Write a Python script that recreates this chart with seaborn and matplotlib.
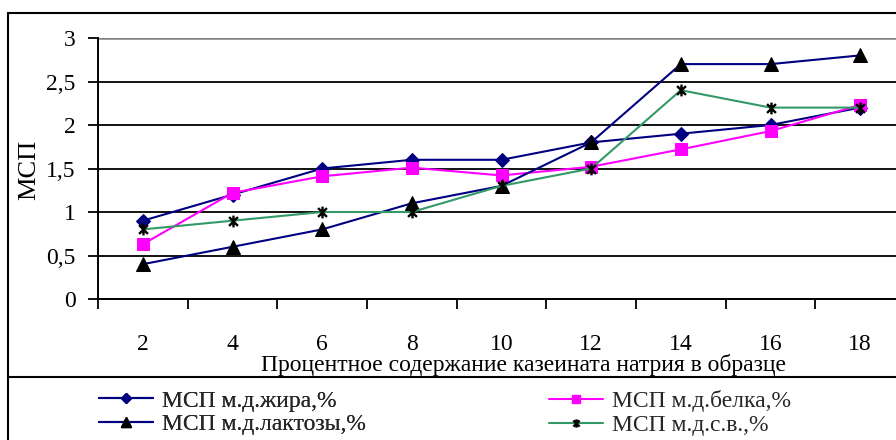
import matplotlib
matplotlib.use("Agg")
import matplotlib.pyplot as plt
from matplotlib.lines import Line2D
from matplotlib.path import Path
from matplotlib.ticker import FixedLocator, FuncFormatter
import numpy as np
import pandas as pd
import seaborn as sns

# ---- data ----
casein_pct = [2, 4, 6, 8, 10, 12, 14, 16, 18]
msp_fat = [0.9, 1.2, 1.5, 1.6, 1.6, 1.8, 1.9, 2.0, 2.2]
msp_protein = [0.63, 1.22, 1.41, 1.51, 1.42, 1.52, 1.72, 1.93, 2.23]
msp_lactose = [0.4, 0.6, 0.8, 1.1, 1.3, 1.8, 2.7, 2.7, 2.8]
msp_dry = [0.8, 0.9, 1.0, 1.0, 1.3, 1.5, 2.4, 2.2, 2.2]
series_labels = ["МСП м.д.жира,%", "МСП м.д.белка,%", "МСП м.д.лактозы,%", "МСП м.д.с.в.,%"]
y_ticks = [0, 0.5, 1, 1.5, 2, 2.5, 3]
x_label = "Процентное содержание казеината натрия в образце"
y_label = "МСП"

sns.set_theme(style="white")
plt.rcParams["font.family"] = ["Liberation Serif", "DejaVu Serif"]
FS = 17
plt.rcParams["font.size"] = FS

W, H = 896, 440
fig = plt.figure(figsize=(W / 100, H / 100), dpi=100)
fig.patch.set_facecolor("white")

def fx(px):
    return px / W

def fy(py):
    return 1 - py / H

ax_l, ax_r, ax_t, ax_b = 98, 905, 38, 299
ax = fig.add_axes([fx(ax_l), fy(ax_b), fx(ax_r - ax_l), (ax_b - ax_t) / H])
ax.set_facecolor("white")

# Excel-style star: an x with a vertical bar
star = Path([(0, -1), (0, 1), (-0.75, -0.75), (0.75, 0.75), (-0.75, 0.75), (0.75, -0.75)],
            [Path.MOVETO, Path.LINETO, Path.MOVETO, Path.LINETO, Path.MOVETO, Path.LINETO])

styles = [
    dict(color="#000080", marker="D", markersize=7.5, markerfacecolor="#000080",
         markeredgecolor="#000080"),
    dict(color="#FF00FF", marker="s", markersize=8.8, markerfacecolor="#FF00FF",
         markeredgecolor="#FF00FF"),
    dict(color="#000080", marker="^", markersize=10, markerfacecolor="black",
         markeredgecolor="black"),
    dict(color="#339966", marker=star, markersize=8.5, markerfacecolor="black",
         markeredgecolor="black", markeredgewidth=1.7),
]
series = [msp_fat, msp_protein, msp_lactose, msp_dry]

handles = []
for vals, lab, st in zip(series, series_labels, styles):
    df = pd.DataFrame({"x": casein_pct, "y": vals})
    sns.lineplot(data=df, x="x", y="y", ax=ax, linewidth=1.5, zorder=5,
                 label=lab, legend=False, **st)
    handles.append(Line2D([], [], linewidth=1.5, **st))

# axes limits and ticks
ax.set_xlim(casein_pct[0] - 1, casein_pct[-1] + 1)
ax.set_ylim(0, 3)
ax.xaxis.set_major_locator(FixedLocator(casein_pct))
ax.xaxis.set_minor_locator(FixedLocator([c - 1 for c in casein_pct] + [casein_pct[-1] + 1]))
ax.yaxis.set_major_locator(FixedLocator(y_ticks))
ax.yaxis.set_major_formatter(FuncFormatter(lambda v, p: ("%g" % v).replace(".", ",")))
ax.xaxis.set_major_formatter(FuncFormatter(lambda v, p: "%d" % v))

ax.tick_params(axis="x", which="major", length=0, pad=25, labelsize=FS, colors="black")
ax.tick_params(axis="x", which="minor", length=7.2, width=1.3, direction="out",
               color="black", bottom=True)
ax.tick_params(axis="y", which="major", length=7.2, width=1.3, direction="out",
               pad=9, labelsize=FS, colors="black", left=True)

ax.yaxis.grid(True, color="black", linewidth=1.3)
ax.xaxis.grid(False)
ax.set_axisbelow(True)
ax.get_ygridlines()[-1].set_color("#808080")
ax.get_ygridlines()[-1].set_linewidth(1.8)

for side in ["top", "right"]:
    ax.spines[side].set_visible(False)
for side in ["left", "bottom"]:
    ax.spines[side].set_color("black")
    ax.spines[side].set_linewidth(1.4)

ax.set_xlabel(x_label, fontsize=FS, color="black")
ax.xaxis.set_label_coords((523 - ax_l) / (ax_r - ax_l), -(371 - ax_b) / (ax_b - ax_t))
ax.xaxis.label.set_va("baseline")
ax.set_ylabel(y_label, fontsize=19, color="black")
ax.yaxis.set_label_coords((29 - ax_l) / (ax_r - ax_l), (ax_b - 170) / (ax_b - ax_t))
ax.yaxis.label.set_va("center")

# outer frame and legend separator
for (x0, y0, x1, y1) in [(8, 13, 8, 440), (8, 13, 896, 13), (8, 377, 896, 377)]:
    fig.add_artist(Line2D([fx(x0), fx(x1)], [fy(y0), fy(y1)], color="black",
                          linewidth=1.5, transform=fig.transFigure))

# legend: two columns, each its own legend so the x positions match
leg_kw = dict(loc="upper left", frameon=False, fontsize=FS, handlelength=2.3,
              handletextpad=0.38, labelspacing=0.1, borderpad=0, borderaxespad=0,
              markerscale=0.7)
legL = fig.legend(handles=[handles[0], handles[2]],
                  labels=[series_labels[0], series_labels[2]],
                  bbox_to_anchor=(fx(99), fy(390)), **leg_kw)
fig.add_artist(legL)
fig.legend(handles=[handles[1], handles[3]],
           labels=[series_labels[1], series_labels[3]],
           bbox_to_anchor=(fx(549), fy(390)), **leg_kw)

fig.savefig("out.png", dpi=100, facecolor="white")
